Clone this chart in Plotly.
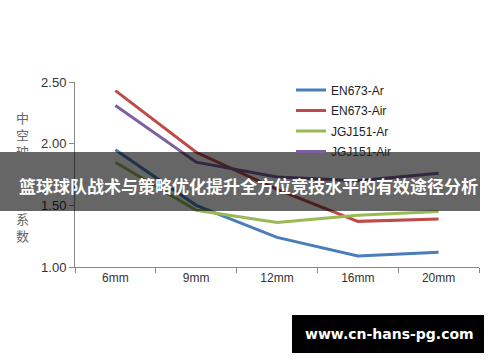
import plotly.graph_objects as go

categories = ["6mm", "9mm", "12mm", "16mm", "20mm"]
en673_ar = [1.95, 1.50, 1.24, 1.09, 1.12]
en673_air = [2.43, 1.93, 1.63, 1.37, 1.39]
jgj151_ar = [1.85, 1.46, 1.36, 1.42, 1.45]
jgj151_air = [2.31, 1.85, 1.73, 1.70, 1.76]
series_names = ["EN673-Ar", "EN673-Air", "JGJ151-Ar", "JGJ151-Air"]
colors = ["#4a7ebb", "#be4b48", "#98b954", "#7d60a0"]
y_ticks = [1.0, 1.5, 2.0, 2.5]
y_title = "中空玻璃传热系数"
banner_text = "篮球球队战术与策略优化提升全方位竞技水平的有效途径分析"
watermark = "www.cn-hans-pg.com"

fig = go.Figure()
for name, vals, c in zip(series_names, [en673_ar, en673_air, jgj151_ar, jgj151_air], colors):
    fig.add_trace(go.Scatter(x=categories, y=vals, name=name, mode="lines", legendgroup=name,
                             line=dict(color=c, width=3)))

fig.update_layout(
    width=500, height=362,
    margin=dict(l=75, r=21, t=82, b=95),
    paper_bgcolor="white", plot_bgcolor="white",
    font=dict(family="Liberation Sans, Arial, sans-serif", size=12, color="#333333"),
    showlegend=True,
    legend=dict(x=(291-75)/404, y=1.035, xanchor="left", yanchor="top",
                font=dict(size=12, color="#222222"), itemwidth=30,
                bgcolor="rgba(0,0,0,0)", tracegroupgap=1.5),
    xaxis=dict(type="category", range=[-0.5, 4.5], showline=True, linecolor="#888888", linewidth=1,
               ticks="outside", tickson="boundaries", ticklen=5, tickcolor="#888888",
               showgrid=False, zeroline=False, tickfont=dict(size=12, color="#333333")),
    yaxis=dict(range=[1.0, 2.5], tickvals=y_ticks, tickformat=".2f",
               showline=True, linecolor="#888888", linewidth=1,
               ticks="outside", ticklen=5, tickcolor="#888888",
               showgrid=False, zeroline=False, tickfont=dict(size=13, color="#333333")),
)

fig.add_annotation(xref="paper", yref="paper", x=-0.13, y=0.49, xanchor="center", yanchor="middle",
                   text="<br>".join(list(y_title)), showarrow=False,
                   font=dict(size=13, color="#666666", family="Noto Sans CJK SC"))

# banner overlay
fig.add_shape(type="rect", xref="paper", yref="paper",
              x0=-75/404, x1=405/404, y0=(267-211)/185, y1=(267-152)/185,
              fillcolor="rgba(0,0,0,0.6)", line=dict(width=0), layer="above")
fig.add_annotation(xref="paper", yref="paper", x=(248-75)/404, y=(267-185)/185,
                   xanchor="center", yanchor="middle", text="<b>" + banner_text + "</b>",
                   showarrow=False, font=dict(size=17, color="white", family="Noto Sans CJK SC"))

# watermark
fig.add_shape(type="rect", xref="paper", yref="paper",
              x0=(292-75)/404, x1=(484-75)/404, y0=(267-353)/185, y1=(267-315)/185,
              fillcolor="black", line=dict(width=0), layer="above")
fig.add_annotation(xref="paper", yref="paper", x=(389-75)/404, y=(267-334)/185,
                   xanchor="center", yanchor="middle", text="<b>" + watermark + "</b>",
                   showarrow=False, font=dict(size=14, color="white", family="DejaVu Sans"))

fig.write_html("out.html")
